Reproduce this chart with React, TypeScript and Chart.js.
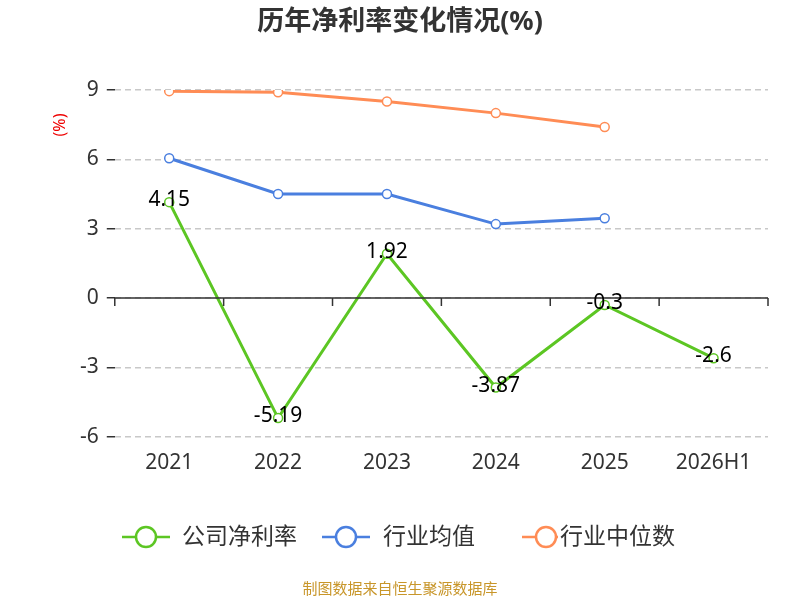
import React, { useEffect, useRef } from "react";
import { Chart, registerables } from "chart.js";
Chart.register(...registerables);

const categories = ["2021", "2022", "2023", "2024", "2025", "2026H1"];
const companyRate = [4.15, -5.19, 1.92, -3.87, -0.3, -2.6];
const industryAvg = [6.05, 4.5, 4.5, 3.2, 3.45, null];
const industryMedian = [8.95, 8.9, 8.5, 8.0, 7.4, null];
const seriesNames = ["公司净利率", "行业均值", "行业中位数"];
const colors = ["#5cc623", "#4a7fdf", "#ff8c55"];

const FONT = '"Noto Sans", "Noto Sans CJK SC", sans-serif';

const overlay = {
  id: "overlay",
  afterDraw(chart: any) {
    const { ctx, chartArea, scales } = chart;
    const y0 = scales.y.getPixelForValue(0);
    ctx.save();
    ctx.strokeStyle = "#333";
    ctx.lineWidth = 1.5;
    ctx.beginPath();
    ctx.moveTo(chartArea.left, y0);
    ctx.lineTo(chartArea.right, y0);
    const n = categories.length;
    const w = (chartArea.right - chartArea.left) / n;
    for (let i = 0; i <= n; i++) {
      const x = chartArea.left + i * w;
      ctx.moveTo(x, y0);
      ctx.lineTo(x, y0 + 8);
    }
    ctx.stroke();
    ctx.fillStyle = "#000";
    ctx.font = `21px ${FONT}`;
    ctx.textAlign = "center";
    ctx.textBaseline = "middle";
    const meta = chart.getDatasetMeta(0);
    meta.data.forEach((p: any, i: number) => {
      ctx.fillText(String(companyRate[i]), p.x, p.y - 2);
    });
    ctx.fillStyle = "#333";
    ctx.font = `bold 27px ${FONT}`;
    ctx.fillText("历年净利率变化情况(%)", 400, 22);
    ctx.save();
    ctx.translate(60, 125);
    ctx.rotate(-Math.PI / 2);
    ctx.fillStyle = "#e00";
    ctx.font = `16px ${FONT}`;
    ctx.fillText("(%)", 0, 0);
    ctx.restore();
    const items = [
      { lx: 122, len: 48, tx: 182 },
      { lx: 322, len: 48, tx: 383 },
      { lx: 522, len: 36, tx: 560 },
    ];
    items.forEach((it, i) => {
      ctx.strokeStyle = colors[i];
      ctx.lineWidth = 2.5;
      ctx.beginPath();
      ctx.moveTo(it.lx, 537);
      ctx.lineTo(it.lx + it.len, 537);
      ctx.stroke();
      ctx.beginPath();
      ctx.fillStyle = "#fff";
      ctx.arc(it.lx + 24, 537, 10, 0, Math.PI * 2);
      ctx.fill();
      ctx.stroke();
      ctx.fillStyle = "#333";
      ctx.font = `23px ${FONT}`;
      ctx.textAlign = "left";
      ctx.fillText(seriesNames[i], it.tx, 537);
    });
    ctx.textAlign = "center";
    ctx.fillStyle = "#c8962a";
    ctx.font = `15px ${FONT}`;
    ctx.fillText("制图数据来自恒生聚源数据库", 400, 590);
    ctx.restore();
  },
};

export default function App() {
  const ref = useRef<HTMLCanvasElement>(null);
  useEffect(() => {
    const mk = (i: number, data: any[]) => ({
      label: seriesNames[i],
      data,
      borderColor: colors[i],
      backgroundColor: "#fff",
      borderWidth: 3,
      pointRadius: 4.5,
      pointBorderWidth: 1.5,
      pointBackgroundColor: "#fff",
      pointBorderColor: colors[i],
      tension: 0,
    });
    const chart = new Chart(ref.current!, {
      type: "line",
      data: {
        labels: categories,
        datasets: [mk(0, companyRate), mk(1, industryAvg), mk(2, industryMedian)],
      },
      options: {
        animation: false,
        responsive: false,
        layout: { padding: { top: 90, left: 72, right: 32, bottom: 110 } },
        plugins: { legend: { display: false }, title: { display: false }, tooltip: { enabled: false } },
        scales: {
          x: {
            offset: true,
            grid: { display: false, drawTicks: false },
            border: { display: false },
            ticks: { color: "#333", font: { size: 21, family: FONT }, padding: 14 },
          },
          y: {
            min: -6,
            max: 9,
            ticks: { stepSize: 3, color: "#333", font: { size: 21, family: FONT }, padding: 8 },
            border: { display: false, dash: [6, 4] } as any,
            grid: {
              color: "#c8c8c8",
              lineWidth: 1.5,
              tickLength: 8,
              tickColor: "#333",
              drawTicks: true,
            } as any,
          },
        },
      },
      plugins: [overlay],
    });
    return () => chart.destroy();
  }, []);
  return (
    <div style={{ position: "fixed", left: 0, top: 0, width: 800, height: 600, background: "#fff" }}>
      <canvas ref={ref} width={800} height={600} />
    </div>
  );
}
